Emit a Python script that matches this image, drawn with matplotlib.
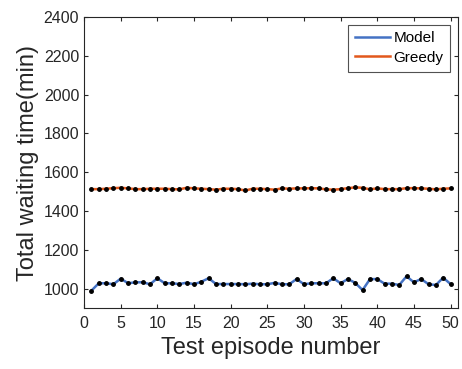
import matplotlib
matplotlib.use("Agg")
import matplotlib.pyplot as plt
import numpy as np

plt.rcParams["font.family"] = ["Liberation Sans", "DejaVu Sans"]

episodes = np.arange(1, 51)
model_wait = [990, 1028, 1028, 1023, 1052, 1028, 1033, 1033, 1023, 1054,
              1028, 1028, 1024, 1031, 1023, 1036, 1054, 1024, 1024, 1024,
              1024, 1023, 1026, 1023, 1023, 1030, 1023, 1023, 1050, 1023,
              1028, 1028, 1028, 1054, 1028, 1050, 1030, 993, 1049, 1050,
              1026, 1026, 1019, 1064, 1033, 1050, 1023, 1019, 1057, 1024]
greedy_wait = [1513, 1513, 1515, 1518, 1520, 1517, 1513, 1513, 1515, 1515,
               1515, 1513, 1512, 1520, 1517, 1515, 1513, 1510, 1515, 1515,
               1513, 1506, 1515, 1515, 1513, 1510, 1517, 1515, 1517, 1517,
               1518, 1517, 1512, 1510, 1513, 1518, 1522, 1520, 1512, 1517,
               1513, 1513, 1513, 1518, 1518, 1517, 1515, 1512, 1515, 1517]

fig = plt.figure(figsize=(4.62, 3.69), dpi=100)
ax = fig.add_axes([0.182, 0.165, 0.809, 0.789])

ax.plot(episodes, model_wait, color="#4472C4", lw=1.8, label="Model")
ax.plot(episodes, greedy_wait, color="#E2581C", lw=1.8, label="Greedy")
ax.plot(episodes, model_wait, "k.", ms=5)
ax.plot(episodes, greedy_wait, "k.", ms=5)

ax.set_xlim(0, 51)
ax.set_ylim(900, 2400)
ax.set_xticks(np.arange(0, 51, 5))
ax.set_yticks(np.arange(1000, 2401, 200))
ax.tick_params(direction="in", labelsize=11.5, color="#262626", length=3,
               top=True, right=True, labelcolor="#262626")
ax.tick_params(axis="x", pad=6)
for s in ax.spines.values():
    s.set_color("#262626")
    s.set_linewidth(0.8)

ax.set_xlabel("Test episode number", fontsize=17, color="#262626", labelpad=4)
ax.set_ylabel("Total waiting time(min)", fontsize=17, color="#262626", labelpad=3)

leg = ax.legend(loc="upper right", fontsize=11, frameon=True, fancybox=False,
                handlelength=2.3, borderpad=0.45, labelspacing=0.35,
                handletextpad=0.2, borderaxespad=0.5)
leg.get_frame().set_edgecolor("#262626")
leg.get_frame().set_linewidth(0.8)

fig.savefig("out.png", dpi=100)
